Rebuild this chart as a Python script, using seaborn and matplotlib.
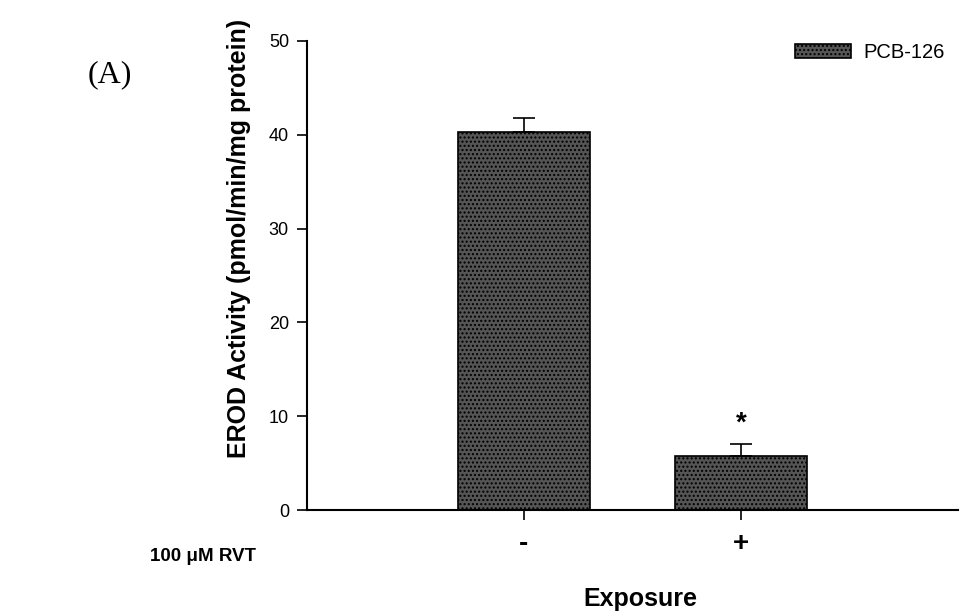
import matplotlib
matplotlib.use("Agg")
import matplotlib.pyplot as plt
import seaborn as sns
import pandas as pd
import numpy as np

categories = ["-", "+"]
means = [40.3, 5.8]
errors = [1.5, 1.2]
series_name = "PCB-126"
yticks = [0, 10, 20, 30, 40, 50]

sns.set_style("ticks")
plt.rcParams['font.family'] = ['Liberation Sans', 'DejaVu Sans']
plt.rcParams['text.color'] = 'black'
plt.rcParams['axes.labelcolor'] = 'black'
plt.rcParams['xtick.color'] = 'black'
plt.rcParams['ytick.color'] = 'black'
plt.rcParams['axes.edgecolor'] = 'black'
plt.rcParams['hatch.color'] = '#7a7a7a'

df = pd.DataFrame({"RVT": categories, "EROD": means, "Group": [series_name] * 2})

fig = plt.figure(figsize=(9.67, 6.16), dpi=100)
ax = fig.add_axes([0.3175, 0.172, 0.673, 0.7615])

sns.barplot(data=df, x="RVT", y="EROD", hue="Group", order=categories,
            palette=["#555555"], width=0.61, edgecolor="black", linewidth=1.2,
            errorbar=None, ax=ax, legend=True)
for p in ax.patches:
    p.set_hatch("....")
    p.set_edgecolor("black")

x = np.arange(len(categories))
ax.errorbar(x, means, yerr=[np.zeros(len(errors)), errors], fmt="none",
            ecolor="black", elinewidth=1.2, capsize=8, capthick=1.2)
ax.text(1, means[1] + errors[1] + 2.2, "*", ha="center", va="center",
        fontsize=20, fontweight="bold")

ax.set_xlim(-1, 2)
ax.set_ylim(0, 50)
ax.set_yticks(yticks)
ax.set_yticklabels([str(t) for t in yticks], fontsize=13)
ax.set_xticks(x)
ax.set_xticklabels(categories, fontsize=20, fontweight="bold")
ax.tick_params(axis="y", direction="out", length=7, width=1.2, pad=6)
ax.tick_params(axis="x", direction="out", length=7, width=1.2, pad=8)
sns.despine(ax=ax)
for s in ["left", "bottom"]:
    ax.spines[s].set_linewidth(1.5)

ax.set_xlabel("Exposure", fontsize=18, fontweight="bold")
ax.xaxis.set_label_coords(0.512, -0.163)
ax.set_ylabel("EROD Activity (pmol/min/mg protein)", fontsize=18,
              fontweight="bold")
ax.yaxis.set_label_coords(-0.086, 0.58)

fig.text(0.155, 0.097, "100 \u03bcM RVT", fontsize=13.5, fontweight="bold",
         ha="left", va="center")
fig.text(0.091, 0.878, "(A)", fontsize=23, family=["Liberation Serif"],
         ha="left", va="center")

leg = ax.legend(loc="upper right", bbox_to_anchor=(1.008, 1.035), frameon=False,
                fontsize=14.5, handlelength=2.8, handleheight=0.7,
                handletextpad=0.6, title=None)

fig.savefig("out.png", dpi=100)
